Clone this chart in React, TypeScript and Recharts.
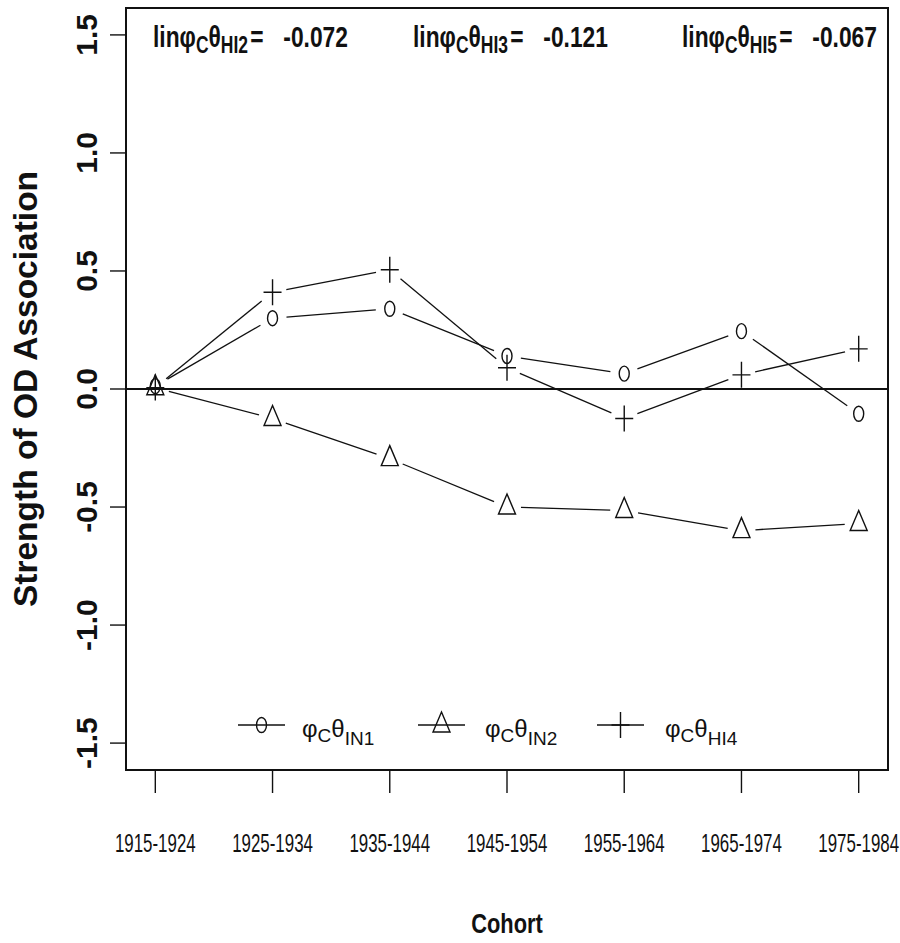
import React from 'react';
import { LineChart, Line, XAxis, YAxis, ReferenceLine, ReferenceArea, Legend, Label } from 'recharts';

// cohorts on the x axis
const cohorts = ['1915-1924', '1925-1934', '1935-1944', '1945-1954', '1955-1964', '1965-1974', '1975-1984'];

// strength of OD association per cohort
const in1Values = [0.012, 0.3, 0.34, 0.14, 0.065, 0.245, -0.105];
const in2Values = [0.005, -0.125, -0.295, -0.5, -0.515, -0.6, -0.57];
const hi4Values = [0.006, 0.41, 0.505, 0.09, -0.125, 0.06, 0.17];

const yTicks = [-1.5, -1, -0.5, 0, 0.5, 1, 1.5];
const yDomain: [number, number] = [-1.614, 1.614];

// linear trend annotations along the top
const linLabels = ['HI2', 'HI3', 'HI5'];
const linValues = ['-0.072', '-0.121', '-0.067'];

const legendLabels = ['IN1', 'IN2', 'HI4'];

const data = cohorts.map((cohort, i) => ({
  idx: i,
  cohort,
  in1: in1Values[i],
  in2: in2Values[i],
  hi4: hi4Values[i],
}));
const xTicks = cohorts.map((_, i) => i);

const FONT = '"Liberation Sans", Arial, Helvetica, sans-serif';
const INK = '#111';

type Kind = 'circle' | 'triangle' | 'plus';

const Marker = ({ kind, x, y }: { kind: Kind; x: number; y: number }) => {
  if (kind === 'circle') {
    return <ellipse cx={x} cy={y} rx={5} ry={7.5} fill="none" stroke={INK} strokeWidth={1.4} />;
  }
  if (kind === 'triangle') {
    return (
      <polygon
        points={`${x},${y - 13} ${x + 8.5},${y + 7} ${x - 8.5},${y + 7}`}
        fill="none"
        stroke={INK}
        strokeWidth={1.4}
      />
    );
  }
  return <path d={`M${x - 9},${y}H${x + 9}M${x},${y - 13}V${y + 13}`} stroke={INK} strokeWidth={1.4} fill="none" />;
};

// R style type="b": segments stop short of each point
const GAP = 14;
const gappedDot = (kind: Kind) => (props: any) => {
  const { cx, cy, index, points } = props;
  const next = points && points[index + 1];
  let seg = null;
  if (next) {
    const dx = next.x - cx;
    const dy = next.y - cy;
    const len = Math.hypot(dx, dy);
    if (len > 2 * GAP) {
      const ux = dx / len;
      const uy = dy / len;
      seg = (
        <line
          x1={cx + ux * GAP}
          y1={cy + uy * GAP}
          x2={next.x - ux * GAP}
          y2={next.y - uy * GAP}
          stroke={INK}
          strokeWidth={1.3}
        />
      );
    }
  }
  return (
    <g key={`${kind}-${index}`}>
      {seg}
      <Marker kind={kind} x={cx} y={cy} />
    </g>
  );
};

const XTick = ({ x, y, payload }: any) => (
  <g transform={`translate(${x},${y + 59}) scale(0.65,1)`}>
    <text textAnchor="middle" fontFamily={FONT} fontSize={26} fill={INK}>
      {cohorts[payload.value]}
    </text>
  </g>
);

const YTick = ({ x, y, payload }: any) => (
  <text
    transform={`translate(${x},${y}) rotate(-90)`}
    textAnchor="middle"
    fontFamily={FONT}
    fontSize={30}
    fontWeight="bold"
    fill={INK}
  >
    {Number(payload.value).toFixed(1)}
  </text>
);

const legendKinds: Kind[] = ['circle', 'triangle', 'plus'];
const legendLineX = [238, 418, 597];
const legendTextX = [302, 485, 665];

const renderLegend = () => (
  <svg width={900} height={50}>
    {legendKinds.map((kind, i) => (
      <g key={kind}>
        <line x1={legendLineX[i]} x2={legendLineX[i] + 47} y1={25} y2={25} stroke={INK} strokeWidth={1.4} />
        <Marker kind={kind} x={legendLineX[i] + 23.5} y={25} />
        <text x={legendTextX[i]} y={37} fontFamily={FONT} fontSize={24} fill={INK}>
          φ
          <tspan fontSize={19} dy={5}>C</tspan>
          <tspan fontSize={24} dy={-5}>θ</tspan>
          <tspan fontSize={19} dy={8}>{legendLabels[i]}</tspan>
        </text>
      </g>
    ))}
  </svg>
);

const annotationX = [153, 413, 682];

export default function App() {
  return (
    <div style={{ position: 'absolute', left: 0, top: 0, width: 900, height: 943, background: '#fff' }}>
      <LineChart width={900} height={943} data={data} margin={{ top: 8, right: 12, bottom: 0, left: 0 }}>
        <XAxis
          type="number"
          dataKey="idx"
          domain={[-0.25, 6.25]}
          ticks={xTicks}
          height={173}
          axisLine={{ stroke: INK, strokeWidth: 2 }}
          tickLine={{ stroke: INK, strokeWidth: 1.4 }}
          tickSize={23}
          tickMargin={0}
          tick={<XTick />}
          interval={0}
        >
          <Label
            content={({ viewBox }: any) => (
              <g transform={`translate(${viewBox.x + viewBox.width / 2},${viewBox.y + 163}) scale(0.78,1)`}>
                <text textAnchor="middle" fontFamily={FONT} fontSize={28} fontWeight="bold" fill={INK}>
                  Cohort
                </text>
              </g>
            )}
          />
        </XAxis>
        <YAxis
          type="number"
          domain={yDomain}
          ticks={yTicks}
          width={126}
          axisLine={{ stroke: INK, strokeWidth: 2 }}
          tickLine={{ stroke: INK, strokeWidth: 1.4 }}
          tickSize={16}
          tickMargin={13}
          tick={<YTick />}
          interval={0}
        >
          <Label
            content={({ viewBox }: any) => (
              <text
                transform={`translate(37,${viewBox.y + viewBox.height / 2}) rotate(-90)`}
                textAnchor="middle"
                fontFamily={FONT}
                fontSize={33.5}
                fontWeight="bold"
                fill={INK}
              >
                Strength of OD Association
              </text>
            )}
          />
        </YAxis>
        <ReferenceArea y1={yDomain[0]} y2={yDomain[1]} fill="none" stroke={INK} strokeWidth={2} ifOverflow="visible" />
        <ReferenceLine y={0} stroke={INK} strokeWidth={2} />
        <Line dataKey="in1" stroke="none" dot={gappedDot('circle')} activeDot={false} isAnimationActive={false} />
        <Line dataKey="in2" stroke="none" dot={gappedDot('triangle')} activeDot={false} isAnimationActive={false} />
        <Line dataKey="hi4" stroke="none" dot={gappedDot('plus')} activeDot={false} isAnimationActive={false} />
        <Legend
          content={renderLegend}
          layout="horizontal"
          verticalAlign="middle"
          wrapperStyle={{ position: 'absolute', left: 0, top: 700, width: 900, height: 50 }}
        />
      </LineChart>
      <svg width={900} height={943} style={{ position: 'absolute', left: 0, top: 0, pointerEvents: 'none' }}>
        {linLabels.map((lab, i) => (
          <g key={lab} transform={`translate(${annotationX[i]},47) scale(0.76,1)`}>
            <text fontFamily={FONT} fontSize={30} fontWeight="bold" fill={INK}>
              linφ
              <tspan fontSize={23} dy={6}>C</tspan>
              <tspan fontSize={30} dy={-6}>θ</tspan>
              <tspan fontSize={23} dy={6}>{lab}</tspan>
              <tspan fontSize={30} dy={-6} dx={3}>=</tspan>
              <tspan dx={26}>{linValues[i]}</tspan>
            </text>
          </g>
        ))}
      </svg>
    </div>
  );
}
